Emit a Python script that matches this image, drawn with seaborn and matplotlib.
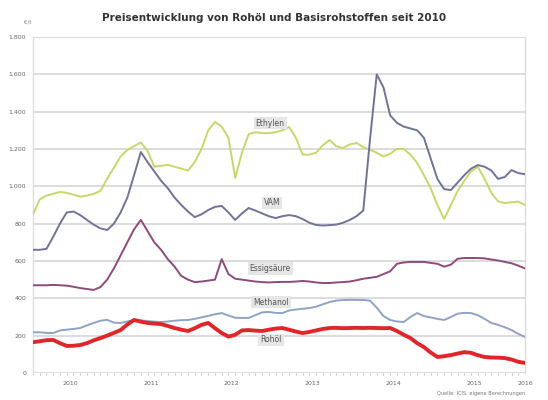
import numpy as np
import pandas as pd
import matplotlib
matplotlib.use("Agg")
import matplotlib.pyplot as plt
from matplotlib.ticker import FixedLocator, FuncFormatter
import seaborn as sns

# monthly values Jan 2010 - Feb 2016, EUR per tonne
months = pd.date_range("2010-01-01", "2016-02-01", freq="MS")

ethylen = [850, 930, 950, 960, 970, 965, 955, 945, 950, 960,
           975, 1040, 1100, 1160, 1195, 1215, 1235, 1190, 1105, 1110,
           1115, 1105, 1095, 1085, 1130, 1200, 1300, 1345, 1320, 1260,
           1045, 1180, 1280, 1290, 1285, 1285, 1290, 1300, 1318, 1260,
           1170, 1170, 1180, 1220, 1248, 1215, 1205, 1225, 1232, 1210,
           1195, 1180, 1160, 1175, 1200, 1200, 1170, 1125, 1060, 990,
           900, 825, 900, 975, 1030, 1080, 1105, 1040, 965, 920,
           910, 915, 918, 900]
vam = [660, 660, 665, 730, 800, 860, 865, 846, 820, 795,
       775, 766, 800, 860, 940, 1060, 1184, 1130, 1080, 1030,
       990, 940, 900, 865, 835, 850, 873, 890, 895, 860,
       820, 855, 884, 870, 855, 840, 830, 840, 846, 840,
       825, 805, 793, 790, 792, 795, 805, 820, 840, 870,
       1250, 1600, 1530, 1380, 1340, 1320, 1310, 1300, 1260, 1150,
       1040, 985, 980, 1020, 1060, 1095, 1114, 1105, 1085, 1040,
       1050, 1087, 1071, 1065]
essigsaeure = [470, 470, 470, 472, 470, 468, 462, 455, 450, 445,
               460, 500, 560, 630, 700, 770, 820, 760, 700, 660,
               610, 570, 520, 500, 487, 490, 495, 500, 610, 530,
               505, 500, 495, 490, 487, 485, 487, 488, 488, 490,
               493, 490, 485, 482, 482, 485, 487, 490, 497, 505,
               510, 515, 530, 545, 585, 592, 595, 595, 595, 590,
               585, 570, 580, 612, 616, 616, 616, 614, 608, 603,
               595, 588, 575, 560]
methanol = [218, 218, 215, 214, 228, 232, 236, 241, 255, 268,
            280, 285, 270, 268, 276, 284, 282, 278, 275, 273,
            276, 280, 283, 284, 290, 298, 306, 315, 321, 308,
            296, 295, 295, 310, 325, 327, 322, 321, 335, 340,
            344, 348, 355, 368, 380, 388, 391, 392, 392, 391,
            388, 350, 305, 284, 276, 273, 300, 321, 305, 298,
            290, 284, 300, 318, 322, 321, 310, 290, 268, 258,
            245, 230, 210, 193]
rohoel = [165, 170, 176, 177, 160, 145, 146, 150, 160, 175,
          187, 200, 215, 230, 260, 284, 275, 268, 265, 262,
          252, 241, 232, 225, 240, 258, 268, 240, 214, 195,
          205, 228, 230, 227, 225, 232, 238, 241, 232, 222,
          214, 220, 228, 236, 241, 242, 240, 241, 242, 241,
          242, 241, 240, 241, 225, 205, 187, 160, 139, 110,
          86, 90, 96, 104, 112, 108, 95, 86, 83, 82,
          80, 72, 60, 54]

year_labels = ["2010", "2011", "2012", "2013", "2014", "2015", "2016"]
y_ticks = [0, 200, 400, 600, 800, 1000, 1200, 1400, 1600, 1800]

colors = {
    "Ethylen": "#c9d66b",
    "VAM": "#6f7399",
    "Essigsäure": "#8e4a78",
    "Methanol": "#8ea3c6",
    "Rohöl": "#e0262b",
}

df = pd.DataFrame({
    "m": np.arange(len(months)),
    "Ethylen": ethylen,
    "VAM": vam,
    "Essigsäure": essigsaeure,
    "Methanol": methanol,
    "Rohöl": rohoel,
})

sns.set_theme(style="white")
plt.rcParams["font.family"] = ["DejaVu Sans"]

fig = plt.figure(figsize=(5.48, 4.0), dpi=100)
ax = fig.add_axes([33 / 548, 1 - 373 / 400, (525 - 33) / 548, (373 - 37) / 400])

for name in ["Ethylen", "VAM", "Essigsäure", "Methanol", "Rohöl"]:
    lw = 2.8 if name == "Rohöl" else 1.4
    sns.lineplot(data=df, x="m", y=name, ax=ax, color=colors[name],
                 linewidth=lw, zorder=3)

ax.set_xlim(0, len(months) - 1)
ax.set_ylim(0, 1800)
ax.set_yticks(y_ticks)
ax.yaxis.set_major_formatter(FuncFormatter(lambda v, p: f"{int(v):,}".replace(",", ".")))
ax.grid(axis="y", color="#dcdcdc", linewidth=1.4, zorder=0)

# year labels in the middle of each year, 2016 at the end
label_pos = [5.5, 17.5, 29.5, 41.5, 53.5, 65.5, len(months) - 1]
ax.xaxis.set_major_locator(FixedLocator(label_pos))
ax.set_xticklabels(year_labels)
ax.xaxis.set_minor_locator(FixedLocator(np.arange(len(months))))
ax.tick_params(axis="x", which="major", length=0, labelsize=4.5, colors="#666666", pad=6)
ax.tick_params(axis="x", which="minor", length=1.5, width=0.6, color="#bbbbbb", bottom=True)
ax.tick_params(axis="y", length=0, labelsize=4.5, colors="#666666", pad=5)
ax.set_xlabel("")
ax.set_ylabel("")

for side in ["top", "bottom"]:
    ax.spines[side].set_visible(False)
for side in ["left", "right"]:
    ax.spines[side].set_color("#dcdcdc")
    ax.spines[side].set_linewidth(1.0)

# in-chart labels
box = dict(boxstyle="square,pad=0.25", facecolor="#e6e6e6", edgecolor="none")
labels = [("Ethylen", 35.2, 1339), ("VAM", 35.5, 911), ("Essigsäure", 35.2, 562),
          ("Methanol", 35.3, 380), ("Rohöl", 35.3, 177)]
for text, xm, yv in labels:
    ax.text(xm, yv, text, fontsize=5.5, color="#555555", ha="center", va="center",
            bbox=box, zorder=4)

fig.text(0.5, 0.955, "Preisentwicklung von Rohöl und Basisrohstoffen seit 2010",
         ha="center", va="center", fontsize=7.5, fontweight="bold", color="#333333")
fig.text(28 / 548, 1 - 22 / 400, "€/t", ha="center", va="center", fontsize=4, color="#777777")
fig.text(525 / 548, 1 - 394 / 400, "Quelle: ICIS, eigene Berechnungen", ha="right",
         va="center", fontsize=3.6, color="#777777")

fig.savefig("out.png", dpi=100)
